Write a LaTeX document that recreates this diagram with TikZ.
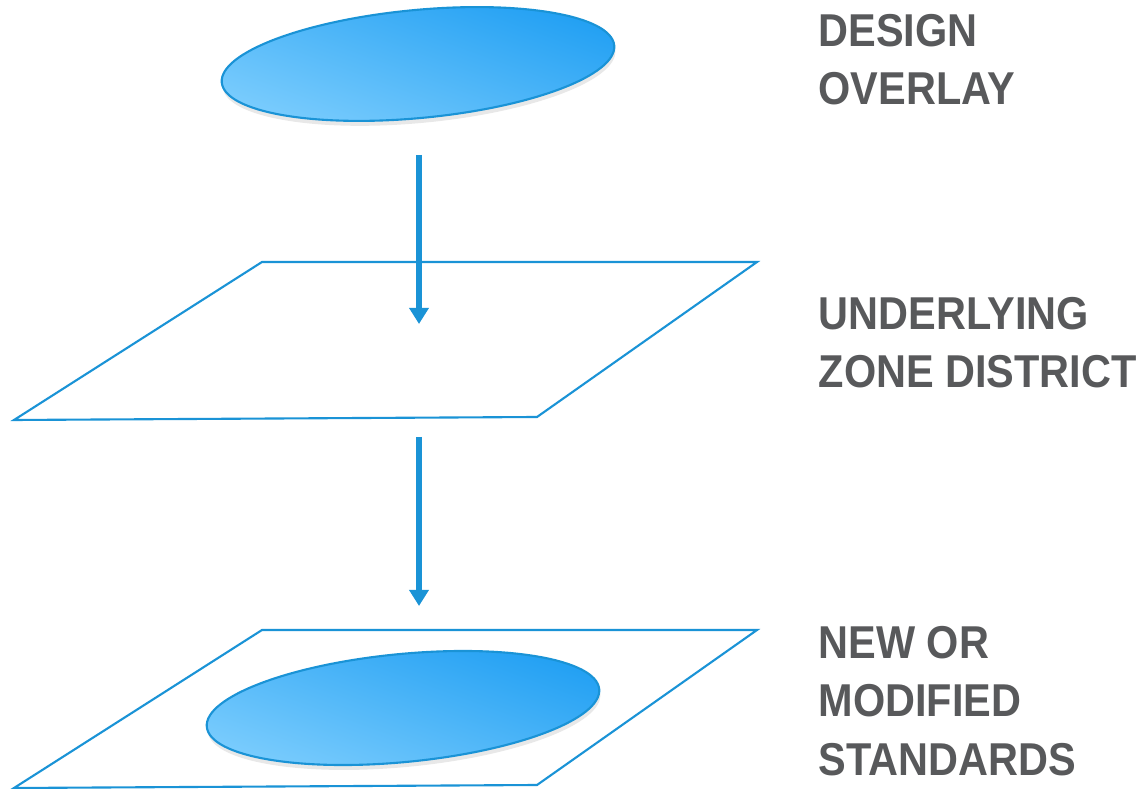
\documentclass[tikz,border=0pt]{standalone}
\usepackage{fontspec}
\usepackage{tikz}
\usetikzlibrary{arrows.meta, shapes.geometric, shadows}
\newfontfamily\labelfont{Liberation Sans}[FakeStretch=0.9]
\definecolor{skyline}{HTML}{1A93D6}
\definecolor{skylight}{HTML}{7ACCFD}
\definecolor{skydark}{HTML}{22A0F3}
\definecolor{slate}{HTML}{58595B}

\begin{document}
\begin{tikzpicture}[x=0.01cm, y=-0.01cm,
  plane/.style={draw=skyline, line width=0.6pt, line join=miter},
  flow/.style={draw=skyline, line width=1.6pt, -{Triangle[width=5.4pt, length=4.6pt]}},
  blob/.style={ellipse, draw=skyline, line width=0.6pt, inner sep=0pt,
    minimum width=3.94cm, minimum height=1.08cm,
    top color=skydark, bottom color=skylight, shading angle=-20,
    drop shadow={opacity=0.18, shadow xshift=0.3pt, shadow yshift=-1.4pt}},
  caption/.style={text=slate, font=\labelfont\bfseries\fontsize{13.1}{16.5}\selectfont,
    align=left, anchor=base west, inner sep=0pt}]
\useasboundingbox (0,0) rectangle (1143,789);

% layers
\draw[plane] (262,262) coordinate (z0) -- (757,262) coordinate (z1)
          -- (537,417) coordinate (z2) -- (14,420) coordinate (z3) -- cycle;
\draw[plane] (262,630) coordinate (s0) -- (757,630) coordinate (s1)
          -- (537,785) coordinate (s2) -- (14,788) coordinate (s3) -- cycle;

\node[blob, rotate=5.4] (overlay) at (418,64) {};
\node[blob, rotate=5.5] (result) at (403,708) {};

% arrows
\coordinate (a0) at (419,155);
\coordinate (a1) at (419,324);
\coordinate (b0) at (419,437);
\coordinate (b1) at (419,606);
\draw[flow] (a0) -- (a1);
\draw[flow] (b0) -- (b1);

% labels (anchored at the last line)
\node[caption] (design) at (818,105) {DESIGN\\OVERLAY};
\node[caption] (zone)   at (818,388) {UNDERLYING\\ZONE DISTRICT};
\node[caption] (std)    at (818,775) {NEW OR\\MODIFIED\\STANDARDS};

\end{tikzpicture}
\end{document}
